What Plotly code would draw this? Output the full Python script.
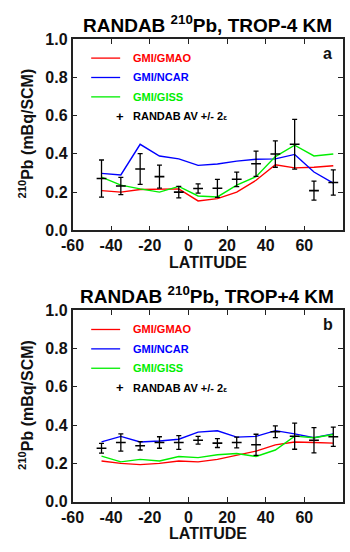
import plotly.graph_objects as go

lat = [-45, -35, -25, -15, -5, 5, 15, 25, 35, 45, 55, 65, 75]

# Panel a: TROP-4 KM
a_gmao = [0.208, 0.200, 0.214, 0.217, 0.217, 0.154, 0.166, 0.200, 0.262, 0.343, 0.327, 0.330, 0.338]
a_ncar = [0.298, 0.290, 0.450, 0.389, 0.374, 0.340, 0.347, 0.362, 0.372, 0.374, 0.397, 0.305, 0.247]
a_giss = [0.279, 0.237, 0.217, 0.200, 0.230, 0.180, 0.175, 0.237, 0.281, 0.386, 0.445, 0.389, 0.399]
a_obs = [0.271, 0.232, 0.321, 0.281, 0.200, 0.219, 0.220, 0.267, 0.348, 0.399, 0.450, 0.208, 0.250]
a_err = [0.097, 0.045, 0.080, 0.060, 0.030, 0.024, 0.047, 0.038, 0.066, 0.069, 0.130, 0.050, 0.066]

# Panel b: TROP+4 KM
b_gmao = [0.213, 0.200, 0.194, 0.200, 0.213, 0.208, 0.221, 0.241, 0.264, 0.297, 0.312, 0.309, 0.306]
b_ncar = [0.312, 0.341, 0.312, 0.317, 0.326, 0.363, 0.370, 0.337, 0.341, 0.371, 0.354, 0.334, 0.354]
b_giss = [0.238, 0.208, 0.221, 0.213, 0.236, 0.230, 0.245, 0.252, 0.236, 0.270, 0.342, 0.334, 0.351]
b_obs = [0.279, 0.309, 0.292, 0.309, 0.309, 0.321, 0.306, 0.309, 0.297, 0.365, 0.342, 0.321, 0.339]
b_err = [0.025, 0.045, 0.022, 0.030, 0.036, 0.020, 0.023, 0.028, 0.055, 0.031, 0.068, 0.066, 0.050]

x_ticks = [-60, -40, -20, 0, 20, 40, 60, 80]
x_ticktext = ["-60", "-40", "-20", "0", "20", "40", "60", "80"]
y_ticks = [0.0, 0.2, 0.4, 0.6, 0.8, 1.0]

series_names = ["GMI/GMAO", "GMI/NCAR", "GMI/GISS"]
series_colors = ["#ff0000", "#0000ff", "#00ee00"]

W, H = 350, 552
FONT = "Liberation Sans, Arial, sans-serif"

fig = go.Figure()

panels = [
    ("x", "y", [a_gmao, a_ncar, a_giss], a_obs, a_err),
    ("x2", "y2", [b_gmao, b_ncar, b_giss], b_obs, b_err),
]
for xa, ya, models, obs, err in panels:
    for vals, name, col in zip(models, series_names, series_colors):
        fig.add_trace(go.Scatter(x=lat, y=vals, mode="lines", name=name,
                                 line=dict(color=col, width=1.4),
                                 xaxis=xa, yaxis=ya, showlegend=False))
    fig.add_trace(go.Scatter(x=lat, y=obs, mode="markers",
                             marker=dict(symbol="line-ew-open", size=7, color="black",
                                         line=dict(color="black", width=1.6)),
                             error_y=dict(type="data", array=err, visible=True,
                                          color="black", thickness=1.3, width=2.5),
                             xaxis=xa, yaxis=ya, showlegend=False))

def px_x(p):
    return p / W

def px_y(p):
    return 1 - p / H

axis_common = dict(
    showline=True, linecolor="#222222", linewidth=1.5, mirror="ticks",
    ticks="inside", ticklen=5, tickwidth=1.2, tickcolor="#222222",
    showgrid=False, zeroline=False,
    tickfont=dict(family=FONT, size=16, color="#111111", weight="bold"),
)

xdom = [px_x(62.7), px_x(342.7)]
layout = dict(
    width=W, height=H, margin=dict(l=0, r=0, t=0, b=0),
    paper_bgcolor="white", plot_bgcolor="white", showlegend=False,
    xaxis=dict(domain=xdom, range=[-60, 80], tickvals=x_ticks, ticktext=x_ticktext,
               anchor="y", **axis_common),
    yaxis=dict(domain=[px_y(229.5), px_y(32)], range=[0, 1], tickvals=y_ticks,
               tickformat=".1f", anchor="x", **axis_common),
    xaxis2=dict(domain=xdom, range=[-60, 80], tickvals=x_ticks, ticktext=x_ticktext,
                anchor="y2", **axis_common),
    yaxis2=dict(domain=[px_y(509.5), px_y(311.5)], range=[0, 1], tickvals=y_ticks,
                tickformat=".1f", anchor="x2", **axis_common),
)
fig.update_layout(**layout)

annotations = []
shapes = []
titles = ["RANDAB <sup>210</sup>Pb, TROP-4 KM", "RANDAB <sup>210</sup>Pb, TROP+4 KM"]
letters = ["a", "b"]
for i, off in enumerate([0, 280]):
    annotations.append(dict(x=px_x(202), y=px_y(16 + off), xref="paper", yref="paper",
                            text=titles[i], showarrow=False, xanchor="center", yanchor="middle",
                            font=dict(family=FONT, size=19, color="black", weight="bold")))
    annotations.append(dict(x=px_x(202.7), y=px_y(262.5 + off), xref="paper", yref="paper",
                            text="LATITUDE", showarrow=False, xanchor="center", yanchor="middle",
                            font=dict(family=FONT, size=16, color="#111111", weight="bold")))
    annotations.append(dict(x=px_x(15), y=px_y(129 + off), xref="paper", yref="paper",
                            text="<sup>210</sup>Pb (mBq/SCM)", textangle=-90, showarrow=False,
                            xanchor="center", yanchor="middle",
                            font=dict(family=FONT, size=16, color="#111111", weight="bold")))
    annotations.append(dict(x=px_x(327), y=px_y(47 + off), xref="paper", yref="paper",
                            text=letters[i], showarrow=False, xanchor="center", yanchor="middle",
                            font=dict(family=FONT, size=16, color="#111111", weight="bold")))
    for j, (name, col) in enumerate(zip(series_names, series_colors)):
        yy = 51.7 + 20 * j + off
        shapes.append(dict(type="line", xref="paper", yref="paper",
                           x0=px_x(82), x1=px_x(112), y0=px_y(yy), y1=px_y(yy),
                           line=dict(color=col, width=1.3)))
        annotations.append(dict(x=px_x(123), y=px_y(yy), xref="paper", yref="paper",
                                text=name, showarrow=False, xanchor="left", yanchor="middle",
                                font=dict(family=FONT, size=11, color=col, weight="bold")))
    yy = 111.7 + off
    annotations.append(dict(x=px_x(111.7), y=px_y(yy), xref="paper", yref="paper",
                            text="+", showarrow=False, xanchor="center", yanchor="middle",
                            font=dict(family=FONT, size=13, color="black", weight="bold")))
    annotations.append(dict(x=px_x(123), y=px_y(yy), xref="paper", yref="paper",
                            text="RANDAB AV +/- 2<span style='font-size:8px'>ε</span>",
                            showarrow=False, xanchor="left", yanchor="middle",
                            font=dict(family=FONT, size=11, color="black", weight="bold")))

fig.update_layout(annotations=annotations, shapes=shapes)
fig.write_html("out.html")
